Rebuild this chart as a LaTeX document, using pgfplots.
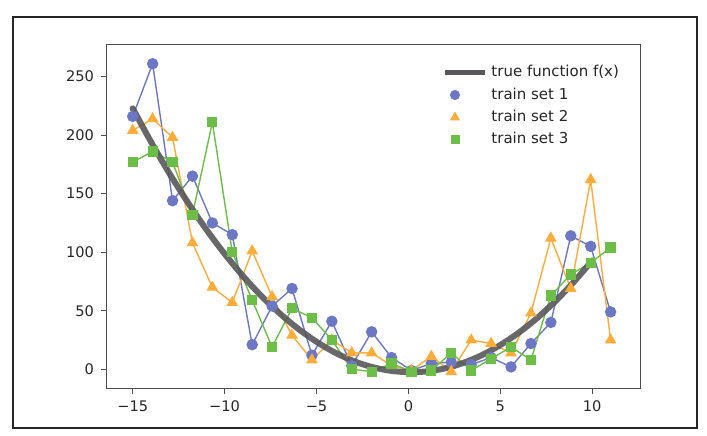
\documentclass[border=0pt]{standalone}
\usepackage{fontspec}
\setmainfont{DejaVu Sans}
\usepackage{pgfplots}
\pgfplotsset{compat=1.18}
\definecolor{cblue}{RGB}{108,120,196}
\definecolor{corange}{RGB}{255,172,58}
\definecolor{cgreen}{RGB}{108,190,72}
\definecolor{cgray}{RGB}{88,86,90}
\pgfplotsset{
  lineleg/.style={legend image code/.code={\draw[##1] (0pt,0pt) -- (20pt,0pt);}},
  markleg/.style={legend image code/.code={\draw[mark repeat=2,mark phase=2,##1] plot coordinates {(0pt,0pt) (5pt,0pt) (20pt,0pt)};}},
}
\pgfplotstableread{
x y1 y2 y3
-15 216 204 177
-13.917 261 214 186
-12.833 144 198 177
-11.75 165 108 132
-10.667 125 70 211
-9.583 115 57 100
-8.5 21 101 59
-7.417 54 62 19
-6.333 69 29 52
-5.25 12 8 44
-4.167 41 25 25
-3.083 3 14 0
-2 32 14 -2
-0.917 10 3 5
0.167 -1 -1 -2
1.25 5 11 -1
2.333 6 -2 14
3.417 4 25 -1
4.5 10 22 9
5.583 2 14 19
6.667 22 48 8
7.75 40 112 63
8.833 114 69 81
9.917 105 162 91
11 49 25 104
}\sets
\pgfplotstableread{
x f
-15 222.9
-14 194.1
-13 167.2
-12 142.5
-11 119.5
-10 98.6
-9 79.6
-8 62.6
-7 47.7
-6 34.6
-5 23.5
-4 14.3
-3 7.1
-2 2.0
-1 -1.2
0 -2.5
1 -1.8
2 0.8
3 5.5
4 12.1
5 20.7
6 31.2
7 43.7
8 58.2
9 74.6
10 93.0
}\truef
\begin{document}
\begin{tikzpicture}
\path (-53.5pt,-23.5pt) rectangle (300pt,194pt);
\draw[line width=1pt, black!85] (-47pt,-20pt) rectangle (295pt,185.5pt);
\begin{axis}[
  at={(0pt,0pt)}, anchor=south west,
  scale only axis, width=266.5pt, height=171.5pt,
  xmin=-16.4, xmax=12.6, ymin=-16, ymax=277,
  axis line style={black!70, line width=0.5pt},
  xtick={-15,-10,-5,0,5,10},
  xticklabels={−15,−10,−5,0,5,10},
  ytick={0,50,100,150,200,250},
  yticklabels={0,50,100,150,200,250},
  tick align=outside, tick pos=left,
  major tick length=3pt,
  tick style={black!70, line width=0.5pt},
  ticklabel style={font=\fontsize{7.3}{8.5}\selectfont, text=black!85},
  legend style={at={(0.98,0.965)}, anchor=north east, draw=none,
    fill=white, font=\fontsize{7.5}{8.5}\selectfont, text=black!85,
    row sep=0pt, cells={anchor=west}},
  legend cell align=left,
]
\addlegendimage{cgray, line width=2.5pt, lineleg}
\addlegendentry{true function f(x)}
\addlegendimage{only marks, mark=*, mark size=2.3pt, cblue, mark options={fill=cblue, draw=cblue}, markleg}
\addlegendentry{train set 1}
\addlegendimage{only marks, mark=triangle*, mark size=2.5pt, corange, mark options={fill=corange, draw=corange}, markleg}
\addlegendentry{train set 2}
\addlegendimage{only marks, mark=square*, mark size=2pt, cgreen, mark options={fill=cgreen, draw=cgreen}, markleg}
\addlegendentry{train set 3}

\addplot[forget plot, cblue, line width=0.7pt, mark=*, mark size=2.5pt, mark options={fill=cblue, draw=cblue}] table[x=x, y=y1] {\sets};
\addplot[forget plot, corange, line width=0.7pt, mark=triangle*, mark size=2.7pt, mark options={fill=corange, draw=corange}] table[x=x, y=y2] {\sets};
\addplot[forget plot, cgreen, line width=0.7pt, mark=square*, mark size=2.2pt, mark options={fill=cgreen, draw=cgreen}] table[x=x, y=y3] {\sets};
\addplot[forget plot, cgray, line width=3pt, smooth, line cap=round, opacity=0.9] table[x=x, y=f] {\truef};
\end{axis}
\end{tikzpicture}
\end{document}
